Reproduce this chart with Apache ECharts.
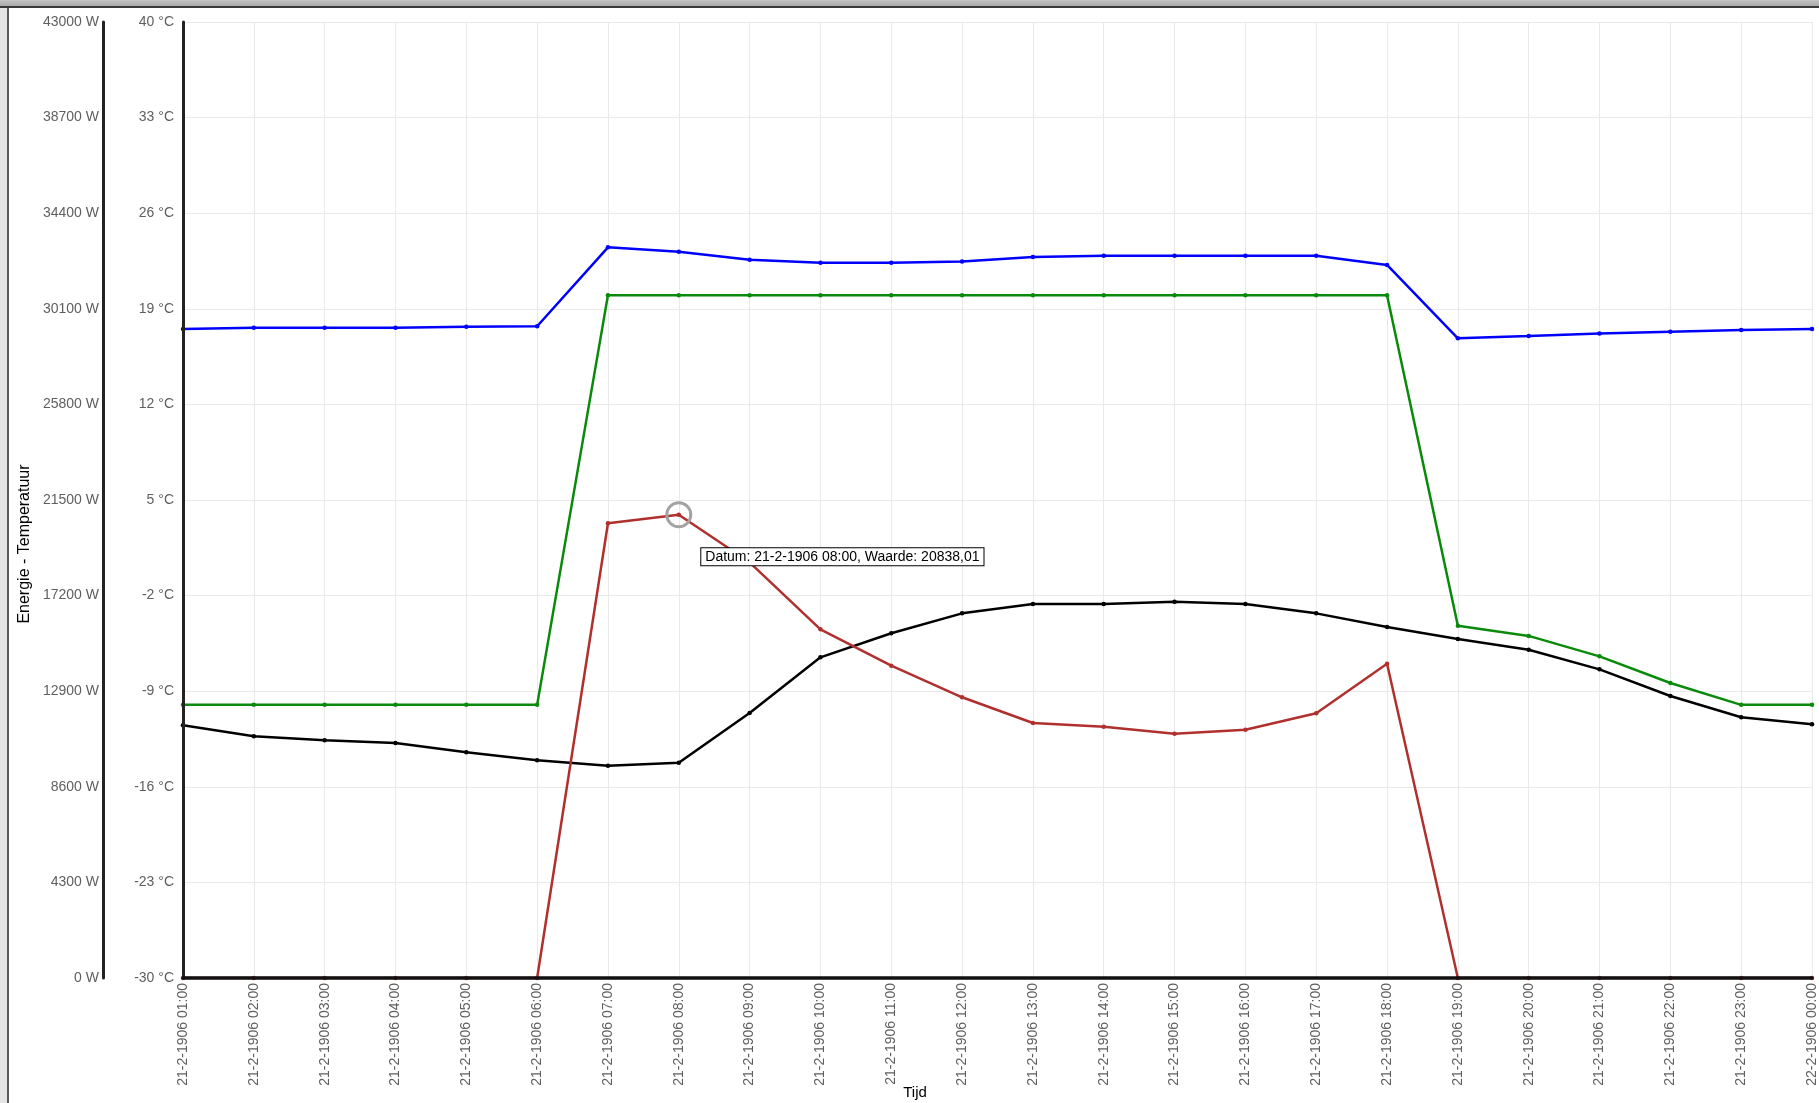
<!DOCTYPE html>
<html>
<head>
<meta charset="utf-8">
<title>Energie - Temperatuur</title>
<script src="https://cdn.jsdelivr.net/npm/echarts@6/dist/echarts.min.js"></script>
<style>
  html, body { margin: 0; padding: 0; background: #ffffff; }
  #chart { width: 1819px; height: 1103px; }
</style>
</head>
<body>
<div id="chart"></div>
<script>
// Hourly timestamps along the x axis
const tijden = [
  '21-2-1906 01:00', '21-2-1906 02:00', '21-2-1906 03:00', '21-2-1906 04:00',
  '21-2-1906 05:00', '21-2-1906 06:00', '21-2-1906 07:00', '21-2-1906 08:00',
  '21-2-1906 09:00', '21-2-1906 10:00', '21-2-1906 11:00', '21-2-1906 12:00',
  '21-2-1906 13:00', '21-2-1906 14:00', '21-2-1906 15:00', '21-2-1906 16:00',
  '21-2-1906 17:00', '21-2-1906 18:00', '21-2-1906 19:00', '21-2-1906 20:00',
  '21-2-1906 21:00', '21-2-1906 22:00', '21-2-1906 23:00', '22-2-1906 00:00'
];

// Indoor temperature (°C)
const binnenTemperatuur = [17.52, 17.62, 17.62, 17.62, 17.69, 17.72, 23.5, 23.18, 22.6, 22.38, 22.38, 22.47,
                           22.79, 22.89, 22.89, 22.89, 22.89, 22.21, 16.84, 17.01, 17.2, 17.32, 17.45, 17.52];

// Setpoint temperature (°C)
const gewensteTemperatuur = [-10, -10, -10, -10, -10, -10, 20, 20, 20, 20, 20, 20,
                             20, 20, 20, 20, 20, 20, -4.2, -4.95, -6.45, -8.4, -10, -10];

// Outdoor temperature (°C)
const buitenTemperatuur = [-11.5, -12.3, -12.6, -12.79, -13.47, -14.06, -14.46, -14.24, -10.6, -6.52, -4.76, -3.3,
                           -2.62, -2.62, -2.45, -2.62, -3.3, -4.3, -5.18, -5.96, -7.4, -9.35, -10.91, -11.42];

// Heating power (W)
const energie = [0, 0, 0, 0, 0, 0, 20453, 20838.01, 18698, 15684, 14047, 12626,
                 11470, 11304, 10989, 11169, 11906, 14137, 0, 0, 0, 0, 0, 0];

// Tick labels of the temperature axis
const temperatuurTicks = [-30, -23, -16, -9, -2, 5, 12, 19, 26, 33, 40];

// Highlighted sample shown with its hover box
const gemarkeerdIndex = 7;

const labelFont = { fontFamily: 'Liberation Sans', fontSize: 14, color: '#5f5f5f' };

function formatWaarde(v) {
  return v.toFixed(2).replace('.', ',');
}

function lijn(naam, data, kleur, yIndex) {
  return {
    name: naam,
    type: 'line',
    data: data,
    yAxisIndex: yIndex,
    xAxisIndex: 0,
    symbol: 'circle',
    symbolSize: 4.5,
    showSymbol: true,
    animation: false,
    lineStyle: { color: kleur, width: 2.5 },
    itemStyle: { color: kleur },
    z: 3
  };
}

const energieSerie = lijn('Energie', energie, '#b0302e', 0);
energieSerie.markPoint = {
  symbol: 'circle',
  symbolSize: 24,
  silent: true,
  itemStyle: { color: 'rgba(0,0,0,0)', borderColor: '#a3a3a3', borderWidth: 3 },
  data: [{ coord: [gemarkeerdIndex, energie[gemarkeerdIndex]] }],
  label: {
    show: true,
    position: [36, 47],
    formatter: 'Datum: ' + tijden[gemarkeerdIndex] + ', Waarde: ' + formatWaarde(energie[gemarkeerdIndex]),
    fontFamily: 'Liberation Sans',
    fontSize: 14,
    color: '#000',
    backgroundColor: '#ffffff',
    borderColor: '#000000',
    borderWidth: 1,
    padding: [1, 4, 1, 4],
    lineHeight: 15
  }
};

const chart = echarts.init(document.getElementById('chart'), null, { renderer: 'canvas' });

chart.setOption({
  animation: false,
  backgroundColor: '#ffffff',
  grid: { left: 183, right: 7, top: 22, bottom: 125, containLabel: false },
  xAxis: [
    {
      type: 'category',
      data: tijden,
      boundaryGap: false,
      position: 'bottom',
      axisLine: { show: false, onZero: false },
      axisTick: { show: false },
      axisLabel: Object.assign({ rotate: 90, interval: 0, margin: 5 }, labelFont),
      splitLine: { show: true, interval: 0, lineStyle: { color: '#e9e9e9', width: 1 } }
    },
    {
      // bottom axis line, kept above the series
      type: 'category',
      data: tijden,
      boundaryGap: false,
      position: 'bottom',
      z: 10,
      axisLine: { show: true, onZero: false, lineStyle: { color: '#111111', width: 3.5 } },
      axisTick: { show: false },
      axisLabel: { show: false },
      splitLine: { show: false }
    }
  ],
  yAxis: [
    {
      type: 'value',
      position: 'left',
      offset: 80,
      min: 0,
      max: 43000,
      interval: 4300,
      axisLine: { show: true, onZero: false, lineStyle: { color: '#222222', width: 3 } },
      axisTick: { show: false },
      axisLabel: Object.assign({ margin: 4, formatter: v => v + ' W' }, labelFont),
      splitLine: { show: true, lineStyle: { color: '#e9e9e9', width: 1 } }
    },
    {
      type: 'value',
      position: 'left',
      offset: 0,
      min: -30,
      max: 40,
      z: 5,
      axisLine: { show: true, onZero: false, lineStyle: { color: '#222222', width: 3 } },
      axisTick: { show: false },
      axisLabel: Object.assign({ margin: 9, customValues: temperatuurTicks, formatter: v => v + ' °C' }, labelFont),
      splitLine: { show: false }
    }
  ],
  graphic: [
    { type: 'rect', shape: { x: 0, y: 0, width: 1819, height: 6 },
      style: { fill: new echarts.graphic.LinearGradient(0, 0, 0, 1, [{ offset: 0, color: '#c4c4c4' }, { offset: 1, color: '#a8a8a8' }]) } },
    { type: 'rect', shape: { x: 0, y: 6, width: 1819, height: 2 }, style: { fill: '#3a3a3a' } },
    { type: 'rect', shape: { x: 0, y: 8, width: 7, height: 1095 }, style: { fill: '#e4e4e4' } },
    { type: 'rect', shape: { x: 7, y: 8, width: 2, height: 1095 }, style: { fill: '#5a5a5a' } },
    { type: 'text', x: 25, y: 544, rotation: Math.PI / 2,
      style: { text: 'Energie - Temperatuur', x: 0, y: 0, align: 'center', verticalAlign: 'middle',
               font: '16px "Liberation Sans"', fill: '#000000' } },
    { type: 'text', x: 915, y: 1093,
      style: { text: 'Tijd', x: 0, y: 0, align: 'center', verticalAlign: 'middle',
               font: '15px "Liberation Sans"', fill: '#000000' } }
  ],
  series: [
    lijn('Binnentemperatuur', binnenTemperatuur, '#0000ff', 1),
    lijn('Gewenste temperatuur', gewensteTemperatuur, '#0a8a0a', 1),
    lijn('Buitentemperatuur', buitenTemperatuur, '#000000', 1),
    energieSerie
  ]
});
</script>
</body>
</html>
